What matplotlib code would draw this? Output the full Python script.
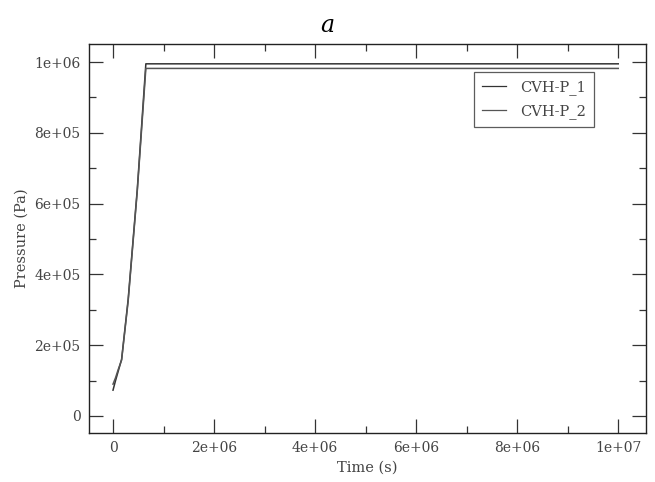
import matplotlib
matplotlib.use("Agg")
import matplotlib.pyplot as plt
from matplotlib.ticker import MultipleLocator, FuncFormatter

# pressure history of the two CVH volumes
time_1 = [0, 5e4, 1.0e5, 1.7e5, 3.0e5, 4.8e5, 6.5e5, 1.0e7]
pres_1 = [7.3e4, 1.0e5, 1.25e5, 1.6e5, 3.3e5, 6.4e5, 9.95e5, 9.95e5]
time_2 = [0, 5e4, 1.0e5, 1.7e5, 3.0e5, 4.8e5, 6.5e5, 1.0e7]
pres_2 = [9.0e4, 1.08e5, 1.3e5, 1.58e5, 3.25e5, 6.35e5, 9.82e5, 9.82e5]
labels = ["CVH-P_1", "CVH-P_2"]

plt.rcParams['font.family'] = ['DejaVu Serif']

fig = plt.figure(figsize=(6.55, 4.82), dpi=100)
ax = fig.add_axes([0.1359, 0.1017, 0.8504, 0.807])

ax.plot(time_1, pres_1, color="#333333", lw=1.1, label=labels[0])
ax.plot(time_2, pres_2, color="#555555", lw=1.1, label=labels[1])

ax.set_xlim(-4.75e5, 1.055e7)
ax.set_ylim(-4.8e4, 1.051e6)

ax.xaxis.set_major_locator(MultipleLocator(2e6))
ax.xaxis.set_minor_locator(MultipleLocator(1e6))
ax.yaxis.set_major_locator(MultipleLocator(2e5))
ax.yaxis.set_minor_locator(MultipleLocator(1e5))


def sci(v, pos):
    if v == 0:
        return "0"
    return "%.0e" % v


ax.xaxis.set_major_formatter(FuncFormatter(sci))
ax.yaxis.set_major_formatter(FuncFormatter(sci))

ax.tick_params(which="both", direction="in", top=True, right=True,
               colors="#333333", labelcolor="#444444", labelsize=10, pad=6)
ax.tick_params(which="major", length=10, width=0.9)
ax.tick_params(which="minor", length=5, width=0.9)
for s in ax.spines.values():
    s.set_color("#222222")
    s.set_linewidth(1.0)

ax.set_xlabel("Time (s)", fontsize=10.5, color="#444444", labelpad=4)
ax.set_ylabel("Pressure (Pa)", fontsize=10.5, color="#444444", labelpad=4)

fig.text(0.5, 0.948, "a", fontsize=17, style="italic", ha="center", va="center",
         family=["DejaVu Serif"])

leg = ax.legend(loc="upper right", bbox_to_anchor=(0.907, 0.928), fontsize=10.5,
                frameon=True, fancybox=False, handlelength=1.6, borderpad=0.55,
                labelspacing=0.6, handletextpad=1.0, borderaxespad=0)
leg.get_frame().set_edgecolor("#333333")
leg.get_frame().set_linewidth(0.9)
for t in leg.get_texts():
    t.set_color("#444444")
for h in leg.get_lines():
    h.set_linewidth(0.9)

fig.savefig("out.png", dpi=100)
